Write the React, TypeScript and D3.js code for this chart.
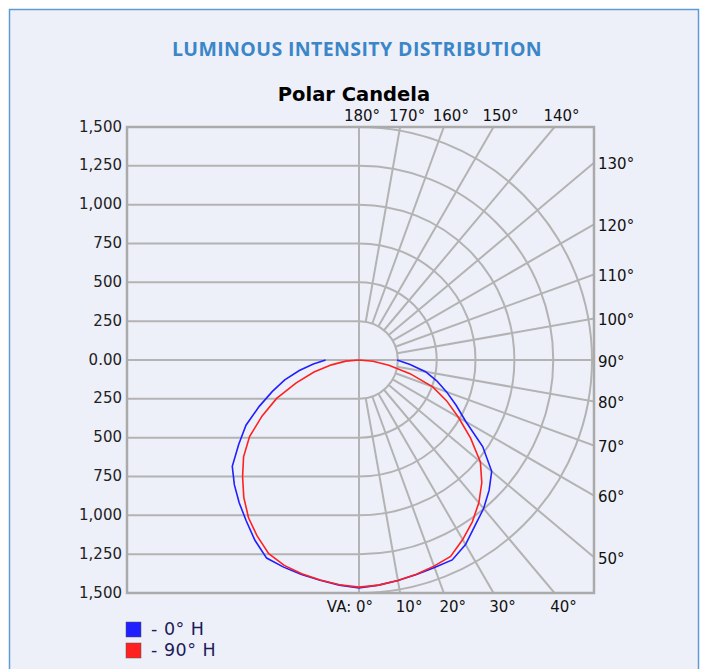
import React from "react";
import * as d3 from "d3";

// vertical angles (deg from nadir) at which the candela values are read
const verticalAngles = [0, 5, 10, 15, 20, 25, 30, 35, 40, 45, 50, 55, 60, 65, 70, 75, 80, 85, 90];

// 0° H plane: right half and mirrored half on the left
const h0Right = [1468, 1455, 1442, 1430, 1421, 1420, 1372, 1302, 1248, 1185, 1115, 972, 795, 690, 600, 518, 435, 330, 245];
const h0Left = [1468, 1455, 1440, 1430, 1419, 1407, 1340, 1265, 1200, 1135, 1065, 945, 840, 710, 595, 495, 390, 295, 215];

// 90° H plane
const h90Right = [1462, 1455, 1442, 1428, 1412, 1395, 1335, 1272, 1200, 1118, 1020, 877, 740, 623, 505, 340, 195, 90, 0];
const h90Left = [1462, 1452, 1438, 1425, 1407, 1375, 1310, 1240, 1154, 1060, 970, 860, 720, 585, 430, 300, 180, 85, 0];

const candelaTicks = [1500, 1250, 1000, 750, 500, 250, 0, -250, -500, -750, -1000, -1250, -1500];
const arcValues = [250, 500, 750, 1000, 1250, 1500];
const radialAngles = [10, 20, 30, 40, 50, 60, 70, 80, 100, 110, 120, 130, 140, 150, 160, 170];
const topLabels = [180, 170, 160, 150, 140];
const rightLabels = [130, 120, 110, 100, 90, 80, 70, 60, 50];
const bottomLabels = [10, 20, 30, 40];

const series = [
  { name: "- 0° H", color: "#1f1fff", left: h0Left, right: h0Right },
  { name: "- 90° H", color: "#ff2020", left: h90Left, right: h90Right },
];

const W = 701;
const H = 669;
const cx = 359;
const cy = 360;
const box = { left: 127, right: 594, top: 127, bottom: 593 };
const gridColor = "#b3b3b3";
const labelFont = "'DejaVu Sans', Verdana, sans-serif";

const App = () => {
  const r = d3.scaleLinear().domain([0, 1500]).range([0, cy - box.top]);
  const y = d3.scaleLinear().domain([-1500, 1500]).range([box.bottom, box.top]);
  const fmt = d3.format(",");

  // point where a ray at angle a (deg from nadir, right side) leaves the box
  const exitPoint = (a: number) => {
    const rad = (a * Math.PI) / 180;
    const dx = Math.sin(rad);
    const dy = Math.cos(rad);
    const tx = dx > 1e-9 ? (box.right - cx) / dx : Infinity;
    const ty = dy > 1e-9 ? (box.bottom - cy) / dy : dy < -1e-9 ? (box.top - cy) / dy : Infinity;
    const t = Math.min(tx, ty);
    return [cx + dx * t, cy + dy * t];
  };

  const arcPath = (v: number) => {
    const p = d3.path();
    p.arc(cx, cy, r(v), -Math.PI / 2, Math.PI / 2);
    return p.toString();
  };

  const radial = d3
    .lineRadial<[number, number]>()
    .angle((d) => d[0])
    .radius((d) => r(d[1]))
    .curve(d3.curveLinear);

  const curvePoints = (s: (typeof series)[number]) => {
    const pts: [number, number][] = [];
    for (let i = verticalAngles.length - 1; i >= 0; i--) {
      pts.push([Math.PI + (verticalAngles[i] * Math.PI) / 180, s.left[i]]);
    }
    for (let i = 1; i < verticalAngles.length; i++) {
      pts.push([Math.PI - (verticalAngles[i] * Math.PI) / 180, s.right[i]]);
    }
    return pts;
  };

  return (
    <svg width={W} height={H} style={{ position: "absolute", left: 0, top: 0 }}>
      <rect x={0} y={0} width={W} height={H} fill="#ffffff" />
      <rect x={9.5} y={9.5} width={689} height={H} fill="#eef0f9" stroke="#5c9bd6" strokeWidth={1.5} />

      <text
        x={357}
        y={56}
        textAnchor="middle"
        fontFamily="'Open Sans', sans-serif"
        fontWeight={700}
        fontSize={19.5}
        letterSpacing={0.4}
        fill="#3a86c8"
      >
        LUMINOUS INTENSITY DISTRIBUTION
      </text>
      <text x={354} y={101} textAnchor="middle" fontFamily={labelFont} fontWeight="bold" fontSize={19.5} fill="#000">
        Polar Candela
      </text>

      <defs>
        <clipPath id="plotClip">
          <rect x={box.left} y={box.top} width={box.right - box.left} height={box.bottom - box.top} />
        </clipPath>
      </defs>

      {/* horizontal candela grid, left half */}
      {candelaTicks.map((v) => (
        <line key={"h" + v} x1={box.left} x2={cx} y1={y(v)} y2={y(v)} stroke={gridColor} strokeWidth={2} />
      ))}

      <g clipPath="url(#plotClip)">
        {arcValues.map((v) => (
          <path key={"a" + v} d={arcPath(v)} fill="none" stroke={gridColor} strokeWidth={2} />
        ))}
        {radialAngles.map((a) => {
          const rad = (a * Math.PI) / 180;
          const [ex, ey] = exitPoint(a);
          return (
            <line
              key={"r" + a}
              x1={cx + Math.sin(rad) * r(250)}
              y1={cy + Math.cos(rad) * r(250)}
              x2={ex}
              y2={ey}
              stroke={gridColor}
              strokeWidth={2}
            />
          );
        })}
      </g>

      <line x1={cx} x2={cx} y1={box.top} y2={box.bottom} stroke={gridColor} strokeWidth={2} />
      <line x1={box.left} x2={box.right} y1={cy} y2={cy} stroke={gridColor} strokeWidth={2} />
      <rect
        x={box.left}
        y={box.top}
        width={box.right - box.left}
        height={box.bottom - box.top}
        fill="none"
        stroke="#aaaaaa"
        strokeWidth={2.5}
      />

      {/* candela curves */}
      {series.map((s) => (
        <path
          key={s.name}
          d={radial(curvePoints(s)) || ""}
          transform={`translate(${cx},${cy})`}
          fill="none"
          stroke={s.color}
          strokeWidth={1.6}
        />
      ))}

      {/* left axis labels */}
      {candelaTicks.map((v) => (
        <text
          key={"l" + v}
          x={122}
          y={y(v)}
          textAnchor="end"
          dominantBaseline="middle"
          fontFamily={labelFont}
          fontSize={15}
          fill="#222"
        >
          {v === 0 ? "0.00" : fmt(Math.abs(v))}
        </text>
      ))}

      {/* angle labels */}
      {topLabels.map((a) => {
        const [ex] = exitPoint(a);
        return (
          <text key={"t" + a} x={ex + (a === 180 ? 3 : 7)} y={121} textAnchor="middle" fontFamily={labelFont} fontSize={15} fill="#111">
            {a}°
          </text>
        );
      })}
      {rightLabels.map((a) => {
        const [, ey] = exitPoint(a);
        return (
          <text key={"rl" + a} x={598} y={ey + 2} dominantBaseline="middle" fontFamily={labelFont} fontSize={15} fill="#111">
            {a}°
          </text>
        );
      })}
      <text x={cx + 14} y={612} textAnchor="end" fontFamily={labelFont} fontSize={15} fill="#111">
        VA: 0°
      </text>
      {bottomLabels.map((a) => {
        const [ex] = exitPoint(a);
        return (
          <text key={"b" + a} x={ex + 9} y={612} textAnchor="middle" fontFamily={labelFont} fontSize={15} fill="#111">
            {a}°
          </text>
        );
      })}

      {/* legend */}
      {series.map((s, i) => (
        <g key={"lg" + s.name} transform={`translate(126, ${622 + i * 21})`}>
          <rect x={0} y={0} width={15} height={15} fill={s.color} stroke="#555" strokeWidth={0.5} />
          <text x={25} y={8} dominantBaseline="middle" fontFamily={labelFont} fontSize={17.5} letterSpacing={0.5} fill="#1c1c5c">
            {s.name}
          </text>
        </g>
      ))}
    </svg>
  );
};

export default App;
